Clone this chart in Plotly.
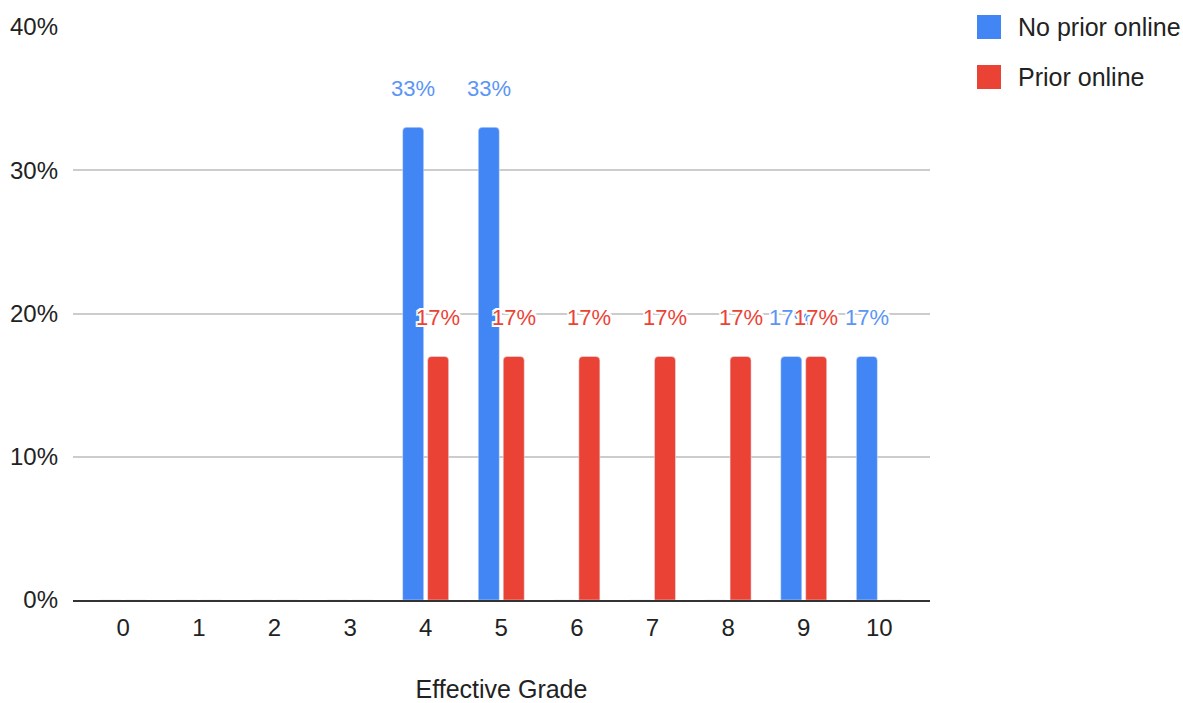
import plotly.graph_objects as go

# Share of students per effective grade, split by prior online experience
grades = [0, 1, 2, 3, 4, 5, 6, 7, 8, 9, 10]
no_prior_online = [0, 0, 0, 0, 0.33, 0.33, 0, 0, 0, 0.17, 0.17]
prior_online = [0, 0, 0, 0, 0.17, 0.17, 0.17, 0.17, 0.17, 0.17, 0]
series_names = ["No prior online", "Prior online"]
y_ticks = [0, 0.1, 0.2, 0.3, 0.4]

BLUE = "#4285F4"
RED = "#EA4335"
FONT = "Liberation Sans, Arial, sans-serif"
HALO = "-2px -2px 0 #fff, 2px -2px 0 #fff, -2px 2px 0 #fff, 2px 2px 0 #fff, 0 2px 0 #fff, 0 -2px 0 #fff, 2px 0 0 #fff, -2px 0 0 #fff"

BAR_W = 0.278
OFFSETS = [-0.304, 0.026]
series = [no_prior_online, prior_online]
colors = [BLUE, RED]
label_colors = ["#5B95F5", "#EA4335"]

TOP, BOTTOM = 27, 600

fig = go.Figure()
for name, vals, col, off in zip(series_names, series, colors, OFFSETS):
    fig.add_trace(go.Bar(
        x=grades, y=vals, name=name, marker_color=col,
        width=BAR_W, offset=off, showlegend=False,
    ))

# Value labels above each non-zero bar
for vals, lc, off in zip(series, label_colors, OFFSETS):
    for g, v in zip(grades, vals):
        if v > 0:
            fig.add_annotation(
                x=g + off + BAR_W / 2, y=v, text=f"{round(v * 100)}%",
                showarrow=False, yanchor="middle", yshift=39,
                font=dict(family=FONT, size=22, color=lc, shadow=HALO),
            )

# Legend drawn to the right of the plot
span = BOTTOM - TOP
for i, (name, col) in enumerate(zip(series_names, colors)):
    yc = 27 + 50 * i
    fig.add_shape(
        type="rect", xref="paper", yref="paper",
        x0=(977 - 73) / 857, x1=(1001 - 73) / 857,
        y0=(BOTTOM - (yc + 12)) / span, y1=(BOTTOM - (yc - 12)) / span,
        fillcolor=col, line=dict(color=col, width=0),
    )
    fig.add_annotation(
        xref="paper", yref="paper", x=(1016 - 73) / 857,
        y=(BOTTOM - yc) / span, text=name, showarrow=False,
        xanchor="left", yanchor="middle",
        font=dict(family=FONT, size=25, color="#222222"),
    )

fig.update_layout(
    width=1183, height=703,
    margin=dict(l=73, r=253, t=TOP, b=703 - BOTTOM, autoexpand=False),
    paper_bgcolor="white", plot_bgcolor="white",
    barmode="group", barcornerradius=4,
    font=dict(family=FONT, size=24, color="#222222"),
    xaxis=dict(
        range=[-0.664, 10.67], tickmode="array", tickvals=grades,
        ticktext=[str(g) for g in grades], showgrid=False, zeroline=False,
        showline=True, linecolor="#333333", linewidth=2,
        ticks="", ticklabelstandoff=5, automargin=False,
        title=dict(text="Effective Grade", standoff=49,
                   font=dict(family=FONT, size=25, color="#222222")),
        fixedrange=True,
    ),
    yaxis=dict(
        range=[0, 0.4], tickvals=y_ticks, tickformat=".0%",
        showgrid=True, gridcolor="#CCCCCC", gridwidth=1.5,
        zeroline=False, showline=False, ticks="", ticklabelstandoff=14,
        automargin=False, fixedrange=True,
    ),
)

fig.write_html("out.html")
